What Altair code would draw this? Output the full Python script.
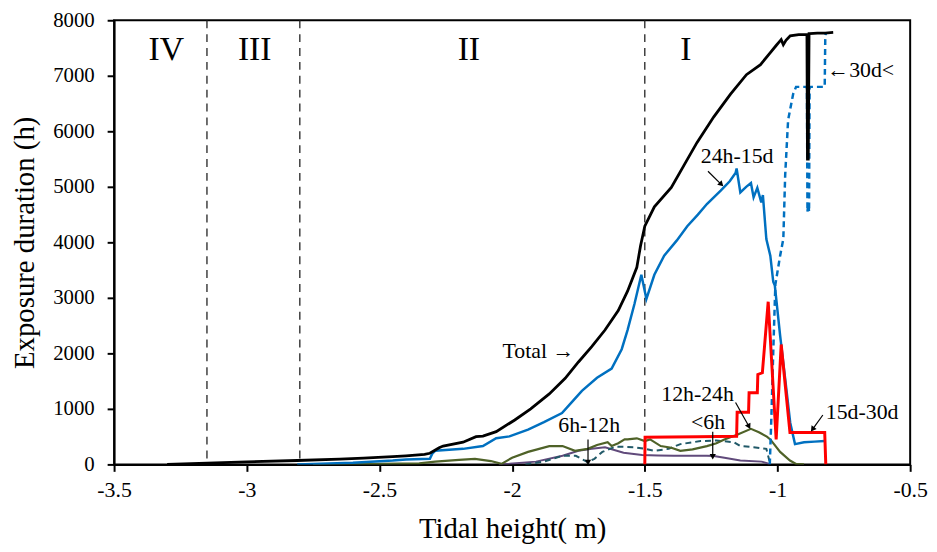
import altair as alt
import pandas as pd

# ---------------- data ----------------
total_x = [-3.30, -3.18, -3.00, -2.81, -2.65, -2.56, -2.45, -2.40, -2.33, -2.31, -2.275, -2.26, -2.185,
           -2.136, -2.11, -2.06, -1.99, -1.93, -1.86, -1.80, -1.75, -1.70, -1.65, -1.60, -1.565, -1.53,
           -1.516, -1.50, -1.464, -1.40, -1.352, -1.303, -1.24, -1.177, -1.117, -1.064, -1.03, -1.005,
           -0.995, -0.986, -0.978, -0.968, -0.952, -0.92, -0.889, -0.887, -0.884, -0.881, -0.879, -0.85,
           -0.82, -0.79]
total_y = [0, 20, 45, 70, 95, 115, 140, 155, 180, 200, 300, 330, 400,
           500, 510, 590, 800, 1000, 1270, 1550, 1845, 2120, 2420, 2770, 3120, 3550,
           3940, 4290, 4640, 4990, 5390, 5800, 6260, 6670, 7020, 7200, 7400, 7545,
           7600, 7650, 7560, 7640, 7720, 7740, 7740, 5500, 5500, 7760, 7760, 7770,
           7770, 7780]

d24h_15d_x = [-2.81, -2.60, -2.45, -2.40, -2.31, -2.30, -2.29, -2.185, -2.11, -2.06, -2.01, -1.94, -1.88,
              -1.812, -1.77, -1.737, -1.68, -1.625, -1.587, -1.565, -1.539, -1.513, -1.494, -1.464,
              -1.427, -1.38, -1.34, -1.30, -1.266, -1.214, -1.18, -1.158, -1.154, -1.14, -1.118, -1.10,
              -1.09, -1.076, -1.061, -1.055, -1.042, -1.027, -1.016, -1.01, -0.99, -0.97, -0.952,
              -0.934, -0.90, -0.86, -0.822]
d24h_15d_y = [0, 30, 70, 90, 100, 200, 245, 280, 330, 470, 505, 627, 760,
              924, 1150, 1324, 1560, 1725, 2075, 2420, 2890, 3415, 2980, 3415,
              3760, 4030, 4290, 4500, 4690, 4930, 5100, 5250, 5330, 4900, 5000, 5070,
              4810, 4980, 4720, 4850, 4060, 3760, 3290, 3220, 2320, 1500, 750,
              365, 400, 410, 420]

d30d_x = [-1.029, -1.023, -1.016, -1.008, -0.99, -0.978, -0.971, -0.96, -0.941, -0.93, -0.889,
          -0.887, -0.884, -0.881, -0.879, -0.85, -0.822, -0.820, -0.818]
d30d_y = [0, 850, 2020, 3240, 3760, 4060, 5210, 6200, 6670, 6800, 6800,
          4550, 4700, 4550, 6800, 6800, 6800, 7650, 7770]

d15d_30d_x = [-1.50, -1.499, -1.30, -1.154, -1.152, -1.109, -1.107, -1.076, -1.074, -1.057, -1.035,
              -1.005, -0.986, -0.953, -0.90, -0.822, -0.818]
d15d_30d_y = [0, 490, 500, 505, 940, 940, 1290, 1290, 1620, 1650, 2930,
              450, 2160, 575, 575, 575, 0]

d12h_24h_x = [-2.75, -2.50, -2.35, -2.29, -2.20, -2.14, -2.08, -2.04, -2.00, -1.94, -1.86, -1.81,
              -1.763, -1.715, -1.68, -1.64, -1.625, -1.60, -1.576, -1.565, -1.53, -1.50, -1.48, -1.44,
              -1.40, -1.366, -1.32, -1.266, -1.23, -1.20, -1.15, -1.10, -1.07, -1.04, -1.027, -0.99,
              -0.953, -0.93, -0.90]
d12h_24h_y = [0, 10, 20, 50, 80, 100, 60, 10, 120, 225, 330, 330,
              245, 280, 350, 400, 330, 380, 450, 450, 470, 420, 450, 330,
              300, 245, 270, 330, 380, 450, 540, 640, 580, 500, 450, 225,
              70, 10, 0]

d6h_12h_x = [-1.95, -1.88, -1.81, -1.76, -1.715, -1.69, -1.66, -1.61, -1.54, -1.50, -1.465, -1.41,
             -1.366, -1.29, -1.23, -1.165, -1.14, -1.09, -1.042, -1.035, -1.027]
d6h_12h_y = [0, 50, 155, 155, 40, 100, 225, 320, 310, 280, 245, 280,
             365, 420, 430, 400, 330, 310, 280, 150, 0]

d6h_x = [-2.05, -2.01, -1.91, -1.81, -1.75, -1.70, -1.65, -1.58, -1.51, -1.45, -1.39, -1.266,
         -1.24, -1.20, -1.14, -1.06, -1.03]
d6h_y = [0, 10, 50, 155, 245, 280, 310, 210, 170, 160, 155, 155,
         150, 120, 70, 50, 10]

zone_lines = [-3.15, -2.8, -1.5]
zone_names = ["IV", "III", "II", "I"]
zone_x = [-3.303, -2.97, -2.163, -1.345]
zone_y = [7460, 7460, 7460, 7460]

note_text = ["Total \u2192", "24h-15d", "\u219030d<", "12h-24h", "<6h", "6h-12h", "15d-30d"]
note_x = [-2.036, -1.289, -0.812, -1.438, -1.326, -1.826, -0.818]
note_y = [2040, 5560, 7110, 1270, 767, 715, 940]

arrow_x = [-1.262, -1.158, -1.244, -1.714, -0.829]
arrow_y = [5280, 1115, 590, 450, 890]
arrow_x2 = [-1.214, -1.109, -1.244, -1.714, -0.866]
arrow_y2 = [5054, 697, 155, 50, 645]
arrow_angle = [135, 152, 180, 180, 216]

x_ticks = [-3.5, -3, -2.5, -2, -1.5, -1, -0.5]
y_ticks = [0, 1000, 2000, 3000, 4000, 5000, 6000, 7000, 8000]

FONT = "'Liberation Serif', 'Times New Roman', 'DejaVu Serif', serif"

# ---------------- shared encodings ----------------
X = alt.X("x:Q",
          scale=alt.Scale(domain=[-3.5, -0.5], nice=False, zero=False),
          axis=alt.Axis(values=x_ticks, labelExpr="datum.value + ''", title="Tidal height( m)",
                        grid=False, tickSize=7, tickWidth=2, tickColor="black",
                        domainColor="black", domainWidth=2, labelFont=FONT, labelFontSize=22,
                        labelColor="black", labelPadding=8, labelFlush=False, labelOverlap=False,
                        titleFont=FONT, titleFontSize=29, titleFontWeight="normal",
                        titleColor="black", titlePadding=15))
Y = alt.Y("y:Q",
          scale=alt.Scale(domain=[0, 8000], nice=False),
          axis=alt.Axis(values=y_ticks, labelExpr="datum.value + ''", title="Exposure duration (h)",
                        grid=False, tickSize=7, tickWidth=2, tickColor="black",
                        domainColor="black", domainWidth=2, labelFont=FONT, labelFontSize=21,
                        labelColor="black", labelPadding=13, labelFlush=False, labelOverlap=False,
                        titleFont=FONT, titleFontSize=29, titleFontWeight="normal",
                        titleColor="black", titlePadding=13))


def series_df(xs, ys):
    return pd.DataFrame({"x": xs, "y": ys, "i": list(range(len(xs)))})


def line(xs, ys, color, width, dash=None):
    kw = dict(color=color, strokeWidth=width, clip=True)
    if dash:
        kw["strokeDash"] = dash
    return alt.Chart(series_df(xs, ys)).mark_line(**kw).encode(x=X, y=Y, order="i:Q")


layers = []
# zone boundaries
layers.append(alt.Chart(pd.DataFrame({"x": zone_lines})).mark_rule(
    color="#222222", strokeWidth=1.3, strokeDash=[8, 6]).encode(x=X))

layers.append(line(d6h_x, d6h_y, "#604A7B", 2))
layers.append(line(d6h_12h_x, d6h_12h_y, "#215968", 2, [6, 4]))
layers.append(line(d12h_24h_x, d12h_24h_y, "#4F6228", 2.2))
layers.append(line(d24h_15d_x, d24h_15d_y, "#0070C0", 2.5))
layers.append(line(d30d_x, d30d_y, "#0070C0", 2.5, [6, 4]))
layers.append(line(d15d_30d_x, d15d_30d_y, "#FF0000", 3))
layers.append(line(total_x, total_y, "#000000", 2.8))

# zone labels
layers.append(alt.Chart(pd.DataFrame({"x": zone_x, "y": zone_y, "t": zone_names})).mark_text(
    font=FONT, fontSize=34, color="black", align="center", baseline="middle").encode(
    x=X, y=Y, text="t:N"))

# annotation texts
layers.append(alt.Chart(pd.DataFrame({"x": note_x, "y": note_y, "t": note_text})).mark_text(
    font=FONT, fontSize=22, color="black", align="left", baseline="middle").encode(
    x=X, y=Y, text="t:N"))

# annotation arrows
arrows = pd.DataFrame({"x": arrow_x, "y": arrow_y, "x2": arrow_x2, "y2": arrow_y2})
layers.append(alt.Chart(arrows).mark_rule(color="black", strokeWidth=1.2).encode(
    x=X, y=Y, x2="x2:Q", y2="y2:Q"))
heads = pd.DataFrame({"x": arrow_x2, "y": arrow_y2, "a": arrow_angle})
layers.append(alt.Chart(heads).mark_point(shape="triangle", filled=True, size=40,
                                           color="black", opacity=1).encode(
    x=X, y=Y, angle=alt.Angle("a:Q", scale=None)))

chart = alt.layer(*layers).properties(
    width=803, height=448,
    padding={"left": 107, "top": 10, "right": 19, "bottom": 86},
    autosize=alt.AutoSizeParams(type="none"),
    background="white",
).configure_view(stroke="black", strokeWidth=2)

chart.save("out.html", embed_options={"renderer": "svg", "actions": False})
